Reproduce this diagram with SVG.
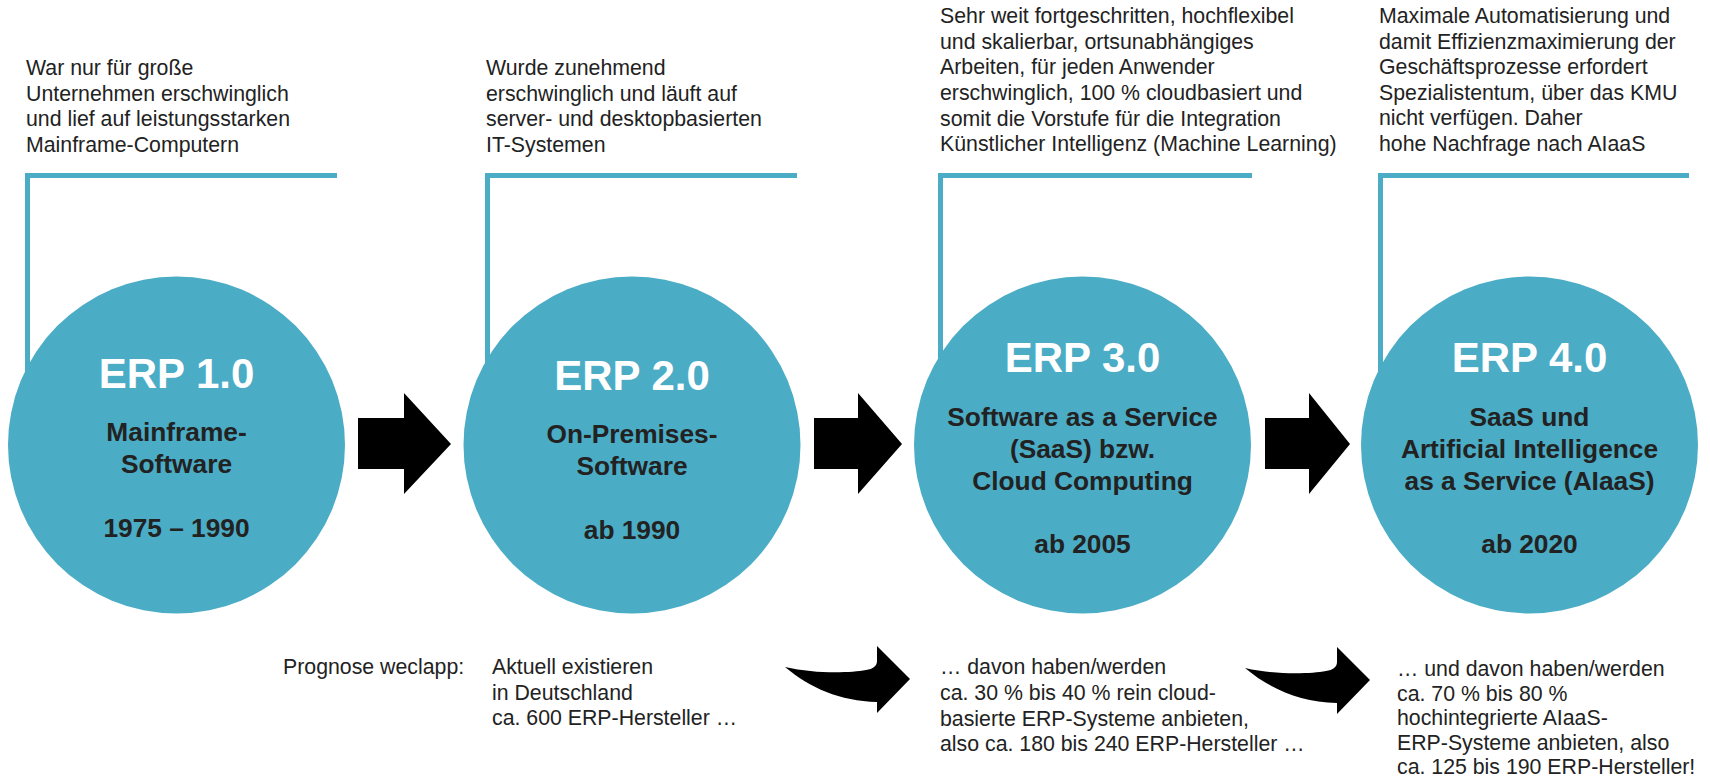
<svg xmlns="http://www.w3.org/2000/svg" width="1710" height="779" viewBox="0 0 1710 779">
<style>
.bg{fill:#ffffff}
.circ{fill:#4BACC6}
.br{fill:none;stroke:#4BACC6;stroke-width:5;stroke-linecap:butt}
.desc{font-family:"Liberation Sans",Arial,sans-serif;font-size:21.3px;fill:#222222}
.ttl{font-family:"Liberation Sans",Arial,sans-serif;font-size:42px;font-weight:bold;fill:#ffffff;text-anchor:middle}
.sub{font-family:"Liberation Sans",Arial,sans-serif;font-size:26.3px;font-weight:bold;fill:#222222;text-anchor:middle}
.arr{fill:#000000}
</style>
<rect class="bg" x="0" y="0" width="1710" height="779"/>

<g id="node-erp1">
  <path class="br" d="M27.5,380 V175.5 H337"/>
  <text class="desc" x="26" y="75">War nur für große</text>
  <text class="desc" x="26" y="101">Unternehmen erschwinglich</text>
  <text class="desc" x="26" y="126">und lief auf leistungsstarken</text>
  <text class="desc" x="26" y="152">Mainframe-Computern</text>
  <circle class="circ" cx="176.5" cy="445" r="168.5"/>
  <text class="ttl" x="176.5" y="388">ERP 1.0</text>
  <text class="sub" x="176.5" y="441">Mainframe-</text>
  <text class="sub" x="176.5" y="473">Software</text>
  <text class="sub" x="176.5" y="537">1975 – 1990</text>
</g>

<g id="node-erp2">
  <path class="br" d="M487.5,380 V175.5 H797"/>
  <text class="desc" x="486" y="75">Wurde zunehmend</text>
  <text class="desc" x="486" y="101">erschwinglich und läuft auf</text>
  <text class="desc" x="486" y="126">server- und desktopbasierten</text>
  <text class="desc" x="486" y="152">IT-Systemen</text>
  <circle class="circ" cx="632" cy="445" r="168.5"/>
  <text class="ttl" x="632" y="390">ERP 2.0</text>
  <text class="sub" x="632" y="443">On-Premises-</text>
  <text class="sub" x="632" y="475">Software</text>
  <text class="sub" x="632" y="539">ab 1990</text>
</g>

<g id="node-erp3">
  <path class="br" d="M940.5,380 V175.5 H1252"/>
  <text class="desc" x="940" y="23">Sehr weit fortgeschritten, hochflexibel</text>
  <text class="desc" x="940" y="49">und skalierbar, ortsunabhängiges</text>
  <text class="desc" x="940" y="74">Arbeiten, für jeden Anwender</text>
  <text class="desc" x="940" y="100">erschwinglich, 100 % cloudbasiert und</text>
  <text class="desc" x="940" y="126">somit die Vorstufe für die Integration</text>
  <text class="desc" x="940" y="151">Künstlicher Intelligenz (Machine Learning)</text>
  <circle class="circ" cx="1082.5" cy="445" r="168.5"/>
  <text class="ttl" x="1082.5" y="372">ERP 3.0</text>
  <text class="sub" x="1082.5" y="426">Software as a Service</text>
  <text class="sub" x="1082.5" y="458">(SaaS) bzw.</text>
  <text class="sub" x="1082.5" y="490">Cloud Computing</text>
  <text class="sub" x="1082.5" y="553">ab 2005</text>
</g>

<g id="node-erp4">
  <path class="br" d="M1380.5,380 V175.5 H1689"/>
  <text class="desc" x="1379" y="23">Maximale Automatisierung und</text>
  <text class="desc" x="1379" y="49">damit Effizienzmaximierung der</text>
  <text class="desc" x="1379" y="74">Geschäftsprozesse erfordert</text>
  <text class="desc" x="1379" y="100">Spezialistentum, über das KMU</text>
  <text class="desc" x="1379" y="125">nicht verfügen. Daher</text>
  <text class="desc" x="1379" y="151">hohe Nachfrage nach AIaaS</text>
  <circle class="circ" cx="1529.5" cy="445" r="168.5"/>
  <text class="ttl" x="1529.5" y="372">ERP 4.0</text>
  <text class="sub" x="1529.5" y="426">SaaS und</text>
  <text class="sub" x="1529.5" y="458">Artificial Intelligence</text>
  <text class="sub" x="1529.5" y="490">as a Service (AIaaS)</text>
  <text class="sub" x="1529.5" y="553">ab 2020</text>
</g>

<g id="forecast-label">
  <text class="desc" x="283" y="674">Prognose weclapp:</text>
</g>
<g id="forecast-1">
  <text class="desc" x="492" y="674">Aktuell existieren</text>
  <text class="desc" x="492" y="699.5">in Deutschland</text>
  <text class="desc" x="492" y="725">ca. 600 ERP-Hersteller …</text>
</g>
<g id="forecast-2">
  <text class="desc" x="940" y="674">… davon haben/werden</text>
  <text class="desc" x="940" y="700">ca. 30 % bis 40 % rein cloud-</text>
  <text class="desc" x="940" y="726">basierte ERP-Systeme anbieten,</text>
  <text class="desc" x="940" y="751">also ca. 180 bis 240 ERP-Hersteller …</text>
</g>
<g id="forecast-3">
  <text class="desc" x="1397" y="676">… und davon haben/werden</text>
  <text class="desc" x="1397" y="700.5">ca. 70 % bis 80 %</text>
  <text class="desc" x="1397" y="725">hochintegrierte AIaaS-</text>
  <text class="desc" x="1397" y="749.5">ERP-Systeme anbieten, also</text>
  <text class="desc" x="1397" y="774">ca. 125 bis 190 ERP-Hersteller!</text>
</g>

<g id="connectors">
  <polygon class="arr" points="358,418 404,418 404,393 451,444 404,494 404,469 358,469"/>
  <polygon class="arr" points="814,418 858,418 858,393 902,444 858,494 858,469 814,469"/>
  <polygon class="arr" points="1265,418 1309,418 1309,393 1350,444 1309,494 1309,469 1265,469"/>
  <path class="arr" d="M785,667 C815,674 850,673 866,670 C873,669 877,666 877,661 L877,646 L910,679 L877,713 L877,702 C840,701 810,688 785,667 Z"/>
  <path class="arr" transform="translate(460,1)" d="M785,667 C815,674 850,673 866,670 C873,669 877,666 877,661 L877,646 L910,679 L877,713 L877,702 C840,701 810,688 785,667 Z"/>
</g>
</svg>
